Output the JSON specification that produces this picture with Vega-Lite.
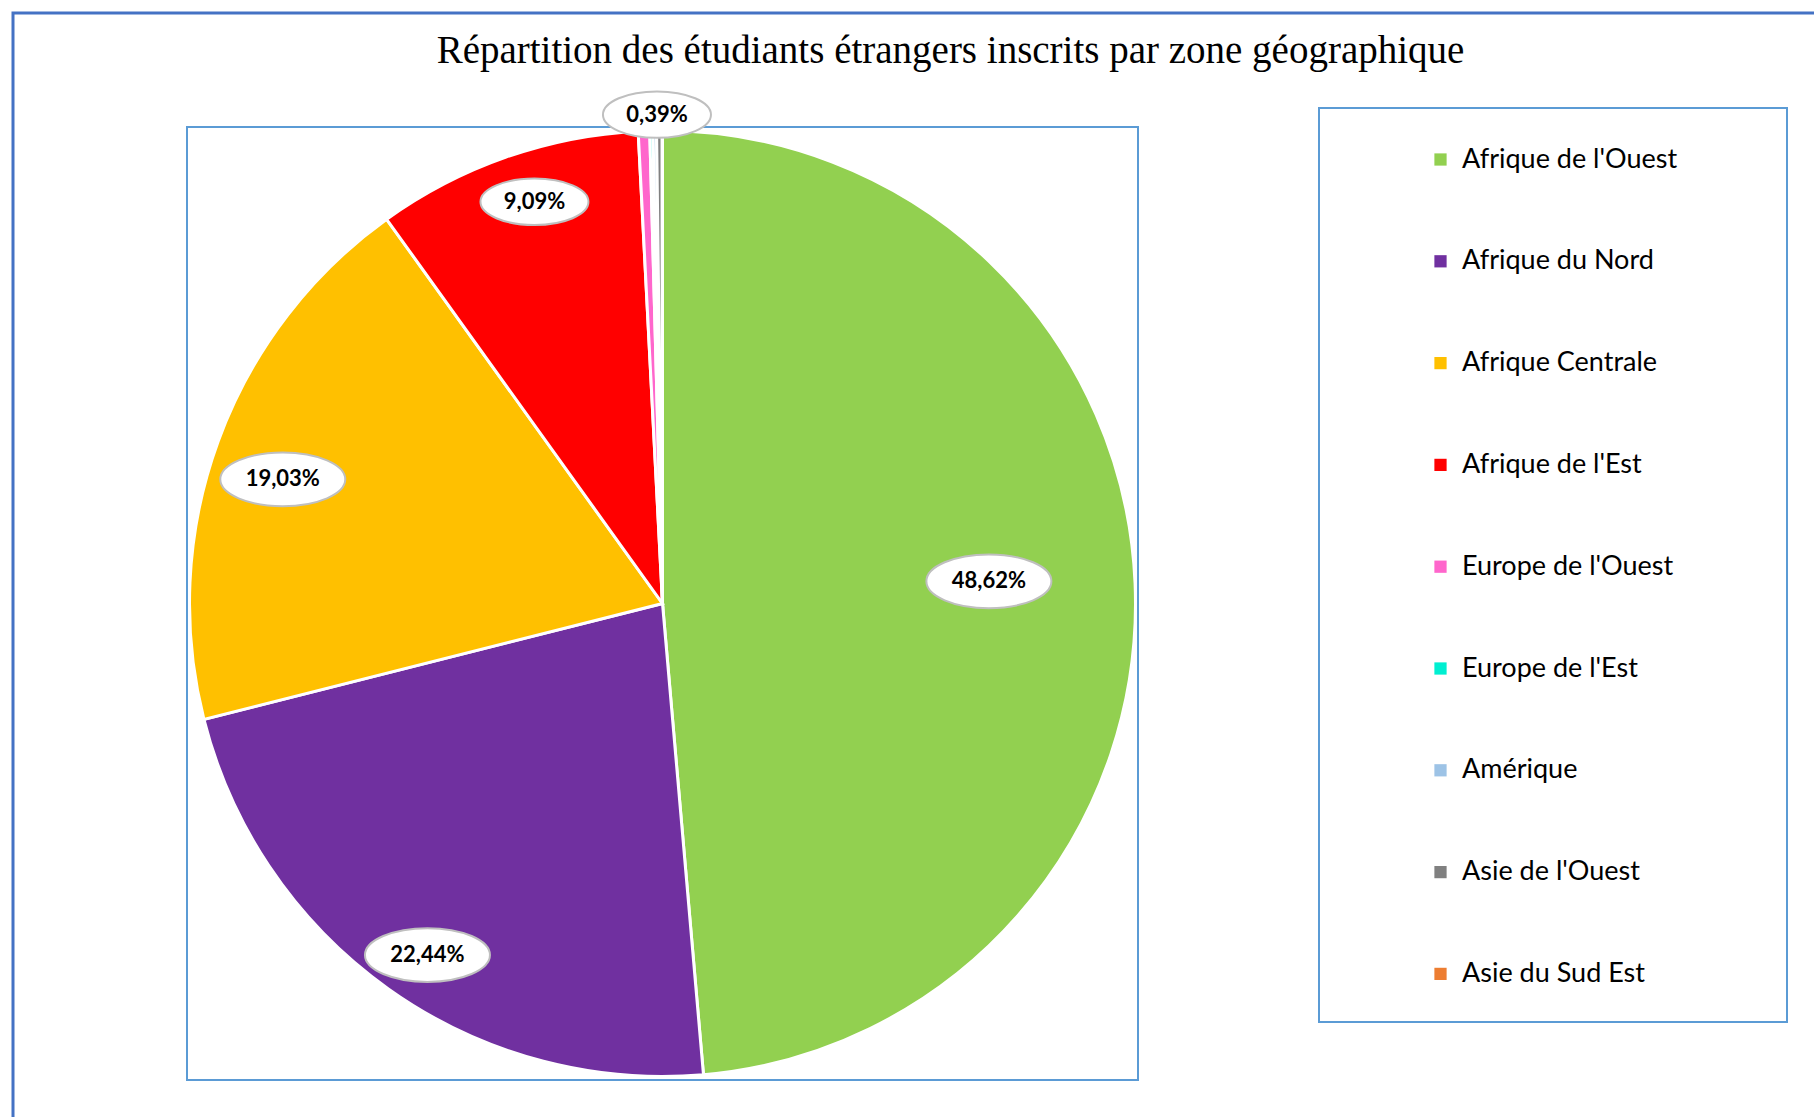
{
  "$schema": "https://vega.github.io/schema/vega-lite/v6.json",
  "width": 951,
  "height": 953,
  "autosize": "none",
  "padding": {"left": 187, "top": 127, "right": 676, "bottom": 37},
  "background": "white",
  "title": {
    "text": "Répartition des étudiants étrangers inscrits par zone géographique",
    "font": "Liberation Serif",
    "fontSize": 39,
    "fontWeight": "normal",
    "color": "black",
    "anchor": "middle",
    "frame": "group",
    "dx": 288,
    "baseline": "alphabetic",
    "offset": 0,
    "dy": 90
  },
  "data": {
    "values": [
      {"zone": "Afrique de l'Ouest", "part": 0.4862, "rang": 1},
      {"zone": "Afrique du Nord", "part": 0.2244, "rang": 2},
      {"zone": "Afrique Centrale", "part": 0.1903, "rang": 3},
      {"zone": "Afrique de l'Est", "part": 0.0909, "rang": 4},
      {"zone": "Europe de l'Ouest", "part": 0.0039, "rang": 5},
      {"zone": "Europe de l'Est", "part": 0.0011, "rang": 6},
      {"zone": "Amérique", "part": 0.0012, "rang": 7},
      {"zone": "Asie de l'Ouest", "part": 0.0019, "rang": 8},
      {"zone": "Asie du Sud Est", "part": 0.0001, "rang": 9}
    ]
  },
  "layer": [
    {
      "data": {"values": [{}]},
      "mark": {"type": "rect", "fillOpacity": 0, "stroke": "#4472C4", "strokeWidth": 3},
      "encoding": {
        "x": {"value": -174},
        "x2": {"value": 1900},
        "y": {"value": -114},
        "y2": {"value": 1200}
      }
    },
    {
      "data": {"values": [{}]},
      "mark": {"type": "rect", "fill": "white", "stroke": "#5B9BD5", "strokeWidth": 2},
      "encoding": {
        "x": {"value": 1132},
        "x2": {"value": 1600},
        "y": {"value": -19},
        "y2": {"value": 895}
      }
    },
    {
      "mark": {"type": "arc", "outerRadius": 473, "stroke": "white", "strokeWidth": 3},
      "encoding": {
        "theta": {"field": "part", "type": "quantitative", "stack": true},
        "order": {"field": "rang", "type": "quantitative"},
        "color": {
          "field": "zone",
          "type": "nominal",
          "scale": {
            "domain": ["Afrique de l'Ouest", "Afrique du Nord", "Afrique Centrale", "Afrique de l'Est", "Europe de l'Ouest", "Europe de l'Est", "Amérique", "Asie de l'Ouest", "Asie du Sud Est"],
            "range": ["#92D050", "#7030A0", "#FFC000", "#FF0000", "#FF66CC", "#00EFD1", "#9DC3E6", "#808080", "#ED7D31"]
          },
          "legend": {
            "title": null,
            "orient": "none",
            "legendX": 1132,
            "legendY": -19,
            "symbolType": "square",
            "symbolSize": 150,
            "symbolStrokeWidth": 0,
            "symbolOffset": 70,
            "labelFont": "Lato",
            "labelFontSize": 27,
            "labelColor": "black",
            "labelOffset": 8,
            "labelLimit": 400,
            "rowPadding": 73.8,
            "padding": 38
          }
        }
      }
    },
    {
      "transform": [
        {"window": [{"op": "sum", "field": "part", "as": "cum"}], "sort": [{"field": "rang"}], "frame": [null, 0]},
        {"filter": "datum.part >= 0.003"},
        {"calculate": "datum.part > 0.4 ? 0.688 : datum.part > 0.2 ? 0.888 : datum.part > 0.15 ? 0.84 : datum.part > 0.01 ? 0.885 : 1.026", "as": "rr"},
        {"calculate": "(datum.part > 0.4 ? -1.4 : datum.part > 0.2 ? -1.6 : datum.part > 0.15 ? -2 : 1.6) * PI / 180", "as": "da"},
        {"calculate": "datum.rr * sin(2 * PI * (datum.cum - datum.part / 2) + datum.da)", "as": "lx"},
        {"calculate": "datum.rr * cos(2 * PI * (datum.cum - datum.part / 2) + datum.da)", "as": "ly"}
      ],
      "encoding": {
        "x": {"field": "lx", "type": "quantitative", "scale": {"domain": [-1, 1], "nice": false}, "axis": null},
        "y": {"field": "ly", "type": "quantitative", "scale": {"domain": [-1, 1], "nice": false}, "axis": null}
      },
      "layer": [
        {
          "mark": {
            "type": "point",
            "shape": "M -1 0 A 1 0.43 0 1 0 1 0 A 1 0.43 0 1 0 -1 0 Z",
            "filled": true,
            "fill": "white",
            "stroke": "#BFBFBF",
            "strokeWidth": 2,
            "opacity": 1
          },
          "encoding": {
            "size": {"condition": {"test": "datum.part < 0.1", "value": 11664}, "value": 15625}
          }
        },
        {
          "mark": {"type": "text", "font": "Lato", "fontWeight": "bold", "fontSize": 22, "color": "black", "align": "center", "baseline": "middle"},
          "encoding": {
            "text": {"field": "part", "type": "quantitative", "format": ".2%"}
          }
        }
      ]
    }
  ],
  "config": {
    "view": {"stroke": "#5B9BD5", "strokeWidth": 2},
    "locale": {"number": {"decimal": ",", "thousands": " ", "grouping": [3], "currency": ["", " €"]}}
  }
}
